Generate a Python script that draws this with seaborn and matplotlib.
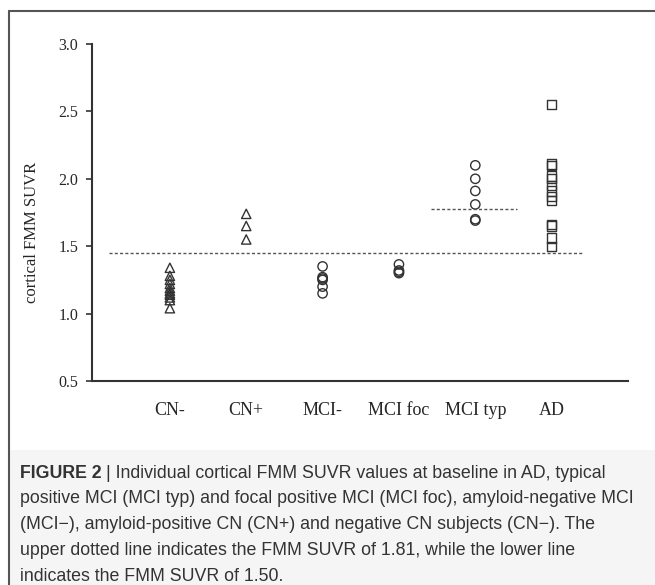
import pandas as pd
import numpy as np
import matplotlib
matplotlib.use('Agg')
import matplotlib.pyplot as plt
import seaborn as sns
from matplotlib.patches import Rectangle
from matplotlib.lines import Line2D

sns.set_style('white')

# Data
groups = ['CN-', 'CN+', 'MCI-', 'MCI foc', 'MCI typ', 'AD']
cn_neg = [1.04, 1.10, 1.12, 1.14, 1.15, 1.17, 1.19, 1.22, 1.25, 1.28, 1.34]
cn_pos = [1.55, 1.65, 1.74]
mci_neg = [1.15, 1.20, 1.25, 1.26, 1.27, 1.35]
mci_foc = [1.30, 1.31, 1.32, 1.365]
mci_typ = [1.69, 1.70, 1.81, 1.91, 2.00, 2.10]
ad = [1.50, 1.56, 1.65, 1.66, 1.84, 1.87, 1.91, 1.95, 2.00, 2.02, 2.10, 2.11, 2.55]
group_markers = {'CN-': '^', 'CN+': '^', 'MCI-': 'o', 'MCI foc': 'o',
                 'MCI typ': 'o', 'AD': 's'}

# threshold lines as drawn
lower_cut = 1.447
upper_cut = 1.775

caption_bold = 'FIGURE 2'
caption_lines = [
    'Individual cortical FMM SUVR values at baseline in AD, typical',
    'positive MCI (MCI typ) and focal positive MCI (MCI foc), amyloid-negative MCI',
    '(MCI\u2212), amyloid-positive CN (CN+) and negative CN subjects (CN\u2212). The',
    'upper dotted line indicates the FMM SUVR of 1.81, while the lower line',
    'indicates the FMM SUVR of 1.50.',
]

values = [cn_neg, cn_pos, mci_neg, mci_foc, mci_typ, ad]
df = pd.DataFrame({
    'group': np.repeat(groups, [len(v) for v in values]),
    'value': np.concatenate(values),
})
df['pos'] = pd.Categorical(df['group'], categories=groups).codes

fig = plt.figure(figsize=(6.55, 5.85), dpi=100)

# caption background and frame
fig.patches.append(Rectangle((9 / 655, 0), 1, 1 - 450 / 585, transform=fig.transFigure,
                             facecolor='#f5f5f5', edgecolor='none', zorder=0))
fig.lines.append(Line2D([9 / 655, 9 / 655], [0, 1 - 11 / 585], transform=fig.transFigure,
                        color='#555555', lw=1.5))
fig.lines.append(Line2D([9 / 655, 1], [1 - 11 / 585, 1 - 11 / 585], transform=fig.transFigure,
                        color='#555555', lw=1.5))

ax = fig.add_axes([92 / 655, 1 - 381 / 585, (628 - 92) / 655, (381 - 44) / 585])
ax.patch.set_alpha(0)

sns.scatterplot(data=df, x='pos', y='value', style='group', markers=group_markers,
                facecolor='none', edgecolor='#333333', linewidth=1.0, s=45,
                legend=False, ax=ax)

ax.plot([-0.8, 5.41], [lower_cut, lower_cut], color='#555555', lw=1.0,
        linestyle=(0, (2.2, 1.6)))
ax.plot([3.42, 4.55], [upper_cut, upper_cut], color='#555555', lw=1.0,
        linestyle=(0, (2.2, 1.6)))

ax.set_xlim(-1.02, 6.0)
ax.set_ylim(0.5, 3.0)
yticks = np.arange(0.5, 3.01, 0.5)
ax.set_yticks(yticks)
ax.set_yticklabels([f'{t:.1f}' for t in yticks],
                   fontfamily='Liberation Serif', fontsize=11.5)
ax.set_xticks(range(len(groups)))
ax.set_xticklabels(groups, fontfamily='Liberation Serif', fontsize=13)
ax.tick_params(axis='x', length=0, pad=15)
ax.tick_params(axis='y', length=4.5, width=1.2, color='#333333', direction='out', pad=5.5, left=True)
ax.set_xlabel('')
ax.set_ylabel('cortical FMM SUVR', fontfamily='Liberation Serif', fontsize=12)
ax.yaxis.set_label_coords(-0.097, 0.442)

sns.despine(ax=ax)
for side in ['left', 'bottom']:
    ax.spines[side].set_color('#333333')
    ax.spines[side].set_linewidth(1.5)

# caption
x0 = 20 / 655
y_first = 1 - 473 / 585
step = 25.8 / 585
t = fig.text(x0, y_first, caption_bold + ' ', fontsize=12.8, fontweight='bold',
             fontfamily='Liberation Sans', color='#333333', va='center')
fig.canvas.draw()
bb = t.get_window_extent()
fig.text(bb.x1 / fig.bbox.width, y_first, '| ' + caption_lines[0], fontsize=12.8,
         fontfamily='Liberation Sans', color='#333333', va='center')
for i, line in enumerate(caption_lines[1:], start=1):
    fig.text(x0, y_first - i * step, line, fontsize=12.8,
             fontfamily='Liberation Sans', color='#333333', va='center')

fig.savefig('out.png', dpi=100)
